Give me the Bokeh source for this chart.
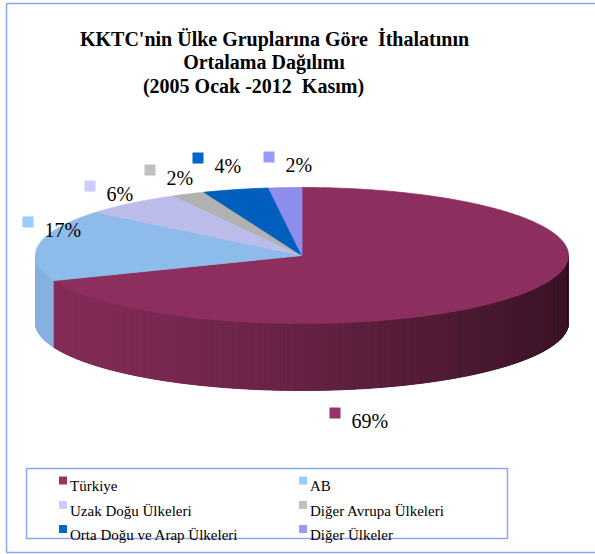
import numpy as np
from bokeh.plotting import figure
from bokeh.models import Range1d
from bokeh.embed import file_html
from bokeh.resources import INLINE
from bokeh.core.properties import value

# ---------------- data ----------------
categories = ["Türkiye", "AB", "Uzak Doğu Ülkeleri", "Diğer Avrupa Ülkeleri",
              "Orta Doğu ve Arap Ülkeleri", "Diğer Ülkeler"]
shares = [69, 17, 6, 2, 4, 2]
pct_labels = ["69%", "17%", "6%", "2%", "4%", "2%"]
colors = ["#993366", "#99CCFF", "#CCCCFF", "#C0C0C0", "#0066CC", "#9999FF"]
title_lines = ["KKTC'nin Ülke Gruplarına Göre \u00a0İthalatının",
               "Ortalama Dağılımı",
               "(2005 Ocak -2012 \u00a0Kasım)"]

# ---------------- layout (data units == page pixels, y downward) ----------------
W, H = 595, 554
CX, CY, RX, RY, DEPTH = 301.5, 255.0, 266.5, 68.0, 67.0
SERIF = value("Liberation Serif")
BORDER = "#8AA6F6"

def shade(h, m):
    r, g, b = int(h[1:3], 16), int(h[3:5], 16), int(h[5:7], 16)
    return "#%02x%02x%02x" % tuple(max(0, min(255, int(round(c * m)))) for c in (r, g, b))

p = figure(width=W, height=H, x_range=Range1d(0, W), y_range=Range1d(H, 0),
           output_backend="svg", toolbar_location=None,
           x_axis_location=None, y_axis_location=None, title=None,
           min_border=0, min_border_left=0, min_border_right=0,
           min_border_top=0, min_border_bottom=0,
           outline_line_color=None, background_fill_color="white",
           border_fill_color="white")
p.xgrid.visible = False
p.ygrid.visible = False

# outer chart border (left, top, bottom; right edge lies outside the picture)
p.multi_line(xs=[[6, 6], [6, W], [6, W]],
             ys=[[3, 552], [3, 3], [552, 552]],
             line_color=BORDER, line_width=1.5)

# ---------------- pie geometry from shares ----------------
fr = np.array(shares, dtype=float) / sum(shares)
cum = np.concatenate([[0.0], np.cumsum(fr)])
t_start = np.pi / 2 - 2 * np.pi * cum[:-1]
t_end = np.pi / 2 - 2 * np.pi * cum[1:]

def ex(t):
    return CX + RX * np.cos(t)

def ey(t):
    return CY - RY * np.sin(t)

# side wall: front half (-pi..0)
brk = list(np.linspace(-np.pi, 0, 721))
for c in cum:
    a = np.pi / 2 - 2 * np.pi * c
    a = (a + np.pi) % (2 * np.pi) - np.pi
    if -np.pi <= a <= 0:
        brk.append(a)
brk = np.unique(np.array(brk))
wall_xs, wall_ys, wall_c = [], [], []
for a, b in zip(brk[:-1], brk[1:]):
    m = 0.5 * (a + b)
    f = ((np.pi / 2 - m) / (2 * np.pi)) % 1.0
    i = min(len(shares) - 1, int(np.searchsorted(cum, f, side="right") - 1))
    xa, xb = ex(a), ex(b)
    ya, yb = ey(a), ey(b)
    wall_xs.append([xa, xb, xb, xa])
    wall_ys.append([ya, yb, yb + DEPTH, ya + DEPTH])
    k = (0.5 * (xa + xb) - (CX - RX)) / (2 * RX)
    mult = 0.88 - 0.49 * k ** 1.2
    wall_c.append(shade(colors[i], mult))
p.patches(xs=wall_xs, ys=wall_ys, fill_color=wall_c, line_color=wall_c, line_width=1)

# top faces
top_xs, top_ys, top_c = [], [], []
for i in range(len(shares)):
    n = max(4, int(abs(t_end[i] - t_start[i]) / np.radians(0.5)) + 1)
    ts = np.linspace(t_start[i], t_end[i], n)
    top_xs.append([CX] + list(ex(ts)))
    top_ys.append([CY] + list(ey(ts)))
    top_c.append(shade(colors[i], 0.92))
p.patches(xs=top_xs, ys=top_ys, fill_color=top_c, line_color=top_c, line_width=0.8)

# ---------------- data labels ----------------
lab_mx = [334.5, 27.5, 89.5, 149.5, 197.5, 268.5]
lab_my = [412.5, 221.5, 185.5, 169.5, 157.5, 156.5]
p.rect(x=lab_mx, y=lab_my, width=11, height=11, fill_color=colors, line_color=None)
p.text(x=[v + 16.5 for v in lab_mx], y=[v + 8 for v in lab_my], text=pct_labels,
       text_font=SERIF, text_font_size="20px", text_color="black",
       text_align="left", text_baseline="alphabetic")

# ---------------- title ----------------
title_cx = [274, 263.5, 253]
title_by = [38, 61.5, 85]
p.text(x=title_cx, y=title_by, text=title_lines,
       text_font=SERIF, text_font_size="20px", text_font_style="bold",
       text_color="black", text_align="center", text_baseline="alphabetic")

# ---------------- legend ----------------
leg_col_x = [62.5, 302.5]
leg_row_y = [480, 504.5, 528.5]
lx = [leg_col_x[j % 2] for j in range(len(categories))]
ly = [leg_row_y[j // 2] for j in range(len(categories))]
p.quad(left=[26], right=[507], top=[468], bottom=[538],
       fill_color=None, line_color=BORDER, line_width=1.5)
p.rect(x=lx, y=ly, width=8, height=8, fill_color=colors, line_color=None)
p.text(x=[v + 7 for v in lx], y=[v + 5.5 for v in ly], text=categories,
       text_font=SERIF, text_font_size="15px", text_color="black",
       text_align="left", text_baseline="alphabetic")

open("out.html", "w").write(file_html(p, INLINE))
